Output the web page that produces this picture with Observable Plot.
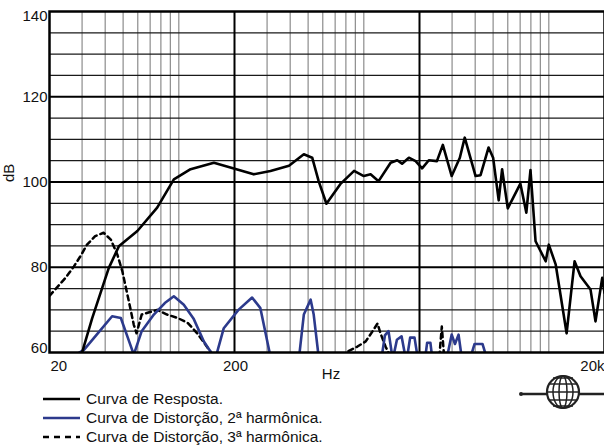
<!DOCTYPE html>
<html><head><meta charset="utf-8">
<script src="https://cdn.jsdelivr.net/npm/d3@7"></script>
<script src="https://cdn.jsdelivr.net/npm/@observablehq/plot@0.6"></script>
<style>
html,body{margin:0;padding:0;background:#fff;}
#wrap{position:relative;width:604px;height:446px;overflow:hidden;font-family:"Liberation Sans",Arial,sans-serif;color:#111;}
#chart{position:absolute;left:0;top:0;}
.leg{position:absolute;left:43px;font-size:15.5px;line-height:17px;display:flex;align-items:center;white-space:nowrap;}
.leg svg{margin-right:6px;}
#logo{position:absolute;left:515px;top:370px;}
</style></head><body>
<div id="wrap">
  <div id="chart"></div>
  <div class="leg" style="top:390px"><svg width="37" height="6"><line x1="0" x2="37" y1="3" y2="3" stroke="#000" stroke-width="2.5"/></svg>Curva de Resposta.</div>
  <div class="leg" style="top:409px"><svg width="37" height="6"><line x1="0" x2="37" y1="3" y2="3" stroke="#2c3a8c" stroke-width="2.5"/></svg>Curva de Distorção, 2ª harmônica.</div>
  <div class="leg" style="top:428px"><svg width="37" height="6"><line x1="0" x2="37" y1="3" y2="3" stroke="#000" stroke-width="2.5" stroke-dasharray="6,5"/></svg>Curva de Distorção, 3ª harmônica.</div>
  <svg id="logo" width="89" height="44">
    <line x1="6" x2="89" y1="24" y2="24" stroke="#222" stroke-width="2.5"/>
    <circle cx="6" cy="24" r="2" fill="#222"/>
    <circle cx="48" cy="22" r="16" fill="#fff" stroke="#222" stroke-width="2.2"/>
    <ellipse cx="48" cy="22" rx="10" ry="16" fill="none" stroke="#222" stroke-width="1.5"/>
    <ellipse cx="48" cy="22" rx="4" ry="16" fill="none" stroke="#222" stroke-width="1.5"/>
    <line x1="32" x2="64" y1="22" y2="22" stroke="#222" stroke-width="1.5"/>
    <line x1="34" x2="62" y1="14" y2="14" stroke="#222" stroke-width="1.5"/>
    <line x1="34" x2="62" y1="30" y2="30" stroke="#222" stroke-width="1.5"/>
    <line x1="38" x2="58" y1="8" y2="8" stroke="#222" stroke-width="1.5"/>
    <line x1="38" x2="58" y1="36" y2="36" stroke="#222" stroke-width="1.5"/>
  </svg>
</div>
<script>
// Frequency response (black)
const respFreq = [30,34,41.8,47.4,59.7,76.4,94,115.8,154.8,190,254,313,394,474,526,570,628,746,886,1000,1088,1202,1396,1516,1610,1752,1906,2066,2246,2484,2674,2986,3304,3512,4020,4276,4726,5000,5360,5592,6000,7020,7560,7960,8480,9620,10000,10900,12480,13780,14840,16800,17880,19440,20000];
const respDb   = [60,68,79.8,84.9,88.5,94,100.6,103,104.5,103.4,101.8,102.6,103.8,106.5,105.7,100.2,94.9,99.5,102.6,101.4,101.8,100.2,104.5,105.1,104.3,105.7,104.9,103.2,105.1,104.9,108.7,101.4,105.7,110.4,101.4,101.6,108.1,105.7,95.7,103,93.8,99.6,92.8,102.8,86.1,81.4,85.3,80.6,64.5,81.4,77.9,74.8,67.3,77.5,74];
// 2nd harmonic distortion (blue)
const h2Freq = [26.5,30.7,36,43.6,48.6,53,57.1,63,73.3,84,94,106.4,120,136.6,154.8,158.6,175,210,249,276,313,447,474,516,536,570,1250,1300,1360,1426,1444,1510,1600,1678,1716,1780,1880,1952,2150,2200,2290,2340,2820,2986,3110,3252,3378,3780,3970,4380,4600];
const h2Db   = [59,60.6,64.2,68.5,68.1,63.5,59.5,65,68.9,71.6,73.2,71.2,68,62.6,59,59,65.7,70,72.9,70.4,59,59,68.9,72.4,68.9,59,59,64,65,59,59,63,63.8,59,59,63.5,63.5,59,59,62.3,62.3,59,59,64.2,62,64.2,59,59,62,62,59];
// 3rd harmonic distortion (dashed)
const h3Freq = [20,24.4,27.1,29.4,31.9,35.3,39.2,42.9,46.5,49.5,53.7,57.1,59.1,63,76.4,86.4,98.6,112,125.7,148.4,155,780,816,924,1024,1112,1186,1231,1310,1396,2561,2640,2717];
const h3Db   = [73.3,77.5,80.2,82.6,85.3,87.3,88.1,86.5,83,79.1,72,66.5,64.5,68.9,70,68.9,68.1,66.9,64.5,60.2,59,59,60.2,61.4,62.6,64.9,66.8,64.5,61.4,59,59,66.1,59];

const yTickMid = [120, 100, 80];
const yTickTop = [140];
const yTickBottom = [60];
const xTickValues = [20, 200, 20000];
const xTickLabels = ["20", "200", "20k"];
const minorDb = [65,70,75,85,90,95,105,110,115,125,130,135];
const majorDb = [80,100,120];
const minorFreq = [30,40,50,60,70,80,90,100,300,400,500,600,700,800,900,1000,3000,4000,5000,6000,7000,8000,9000,10000];
const decadeFreq = [200, 2000];

const resp = respFreq.map((f,i)=>({f, db: respDb[i]}));
const h2 = h2Freq.map((f,i)=>({f, db: h2Db[i]}));
const h3 = h3Freq.map((f,i)=>({f, db: h3Db[i]}));

const font = {fontSize: 15, fill: "#111"};
const chart = Plot.plot({
  width: 604, height: 385,
  marginLeft: 49, marginRight: 0, marginTop: 11, marginBottom: 33,
  x: {type: "log", domain: [20, 20000], axis: null},
  y: {domain: [60, 140], axis: null},
  style: {fontFamily: "'Liberation Sans', Arial, sans-serif", background: "#fff", overflow: "visible"},
  marks: [
    Plot.ruleX(minorFreq, {stroke: "#8c8c8c", strokeWidth: 1.2}),
    Plot.ruleY(minorDb, {stroke: "#1a1a1a", strokeWidth: 1.3}),
    Plot.ruleY(majorDb, {stroke: "#000", strokeWidth: 2}),
    Plot.ruleX(decadeFreq, {stroke: "#000", strokeWidth: 2}),
    Plot.line(h3, {x: "f", y: "db", stroke: "#000", strokeWidth: 2.5, strokeDasharray: "5,4", clip: true}),
    Plot.line(h2, {x: "f", y: "db", stroke: "#2c3a8c", strokeWidth: 2.6, clip: true}),
    Plot.line(resp, {x: "f", y: "db", stroke: "#000", strokeWidth: 2.6, clip: true}),
    Plot.frame({stroke: "#000", strokeWidth: 2.5}),
    Plot.text(yTickMid, {x: 20, y: d => d, text: d => String(d), textAnchor: "end", dx: -2, ...font}),
    Plot.text(yTickTop, {x: 20, y: d => d, text: d => String(d), textAnchor: "end", dx: -2, dy: 5, ...font}),
    Plot.text(yTickBottom, {x: 20, y: d => d, text: d => String(d), textAnchor: "end", dx: -2, dy: -4, ...font}),
    Plot.text([xTickValues[0]], {x: d => d, y: 60, text: [xTickLabels[0]], textAnchor: "start", dx: 1, dy: 14, ...font}),
    Plot.text([xTickValues[1]], {x: d => d, y: 60, text: [xTickLabels[1]], textAnchor: "middle", dx: 1, dy: 14, ...font}),
    Plot.text([xTickValues[2]], {x: d => d, y: 60, text: [xTickLabels[2]], textAnchor: "end", dx: 0, dy: 14, ...font}),
    Plot.text(["Hz"], {frameAnchor: "bottom", text: d => d, dx: 4, dy: 26, ...font}),
    Plot.text(["dB"], {frameAnchor: "left", text: d => d, rotate: -90, dx: -40, ...font})
  ]
});
document.getElementById("chart").appendChild(chart);
</script>
</body></html>
